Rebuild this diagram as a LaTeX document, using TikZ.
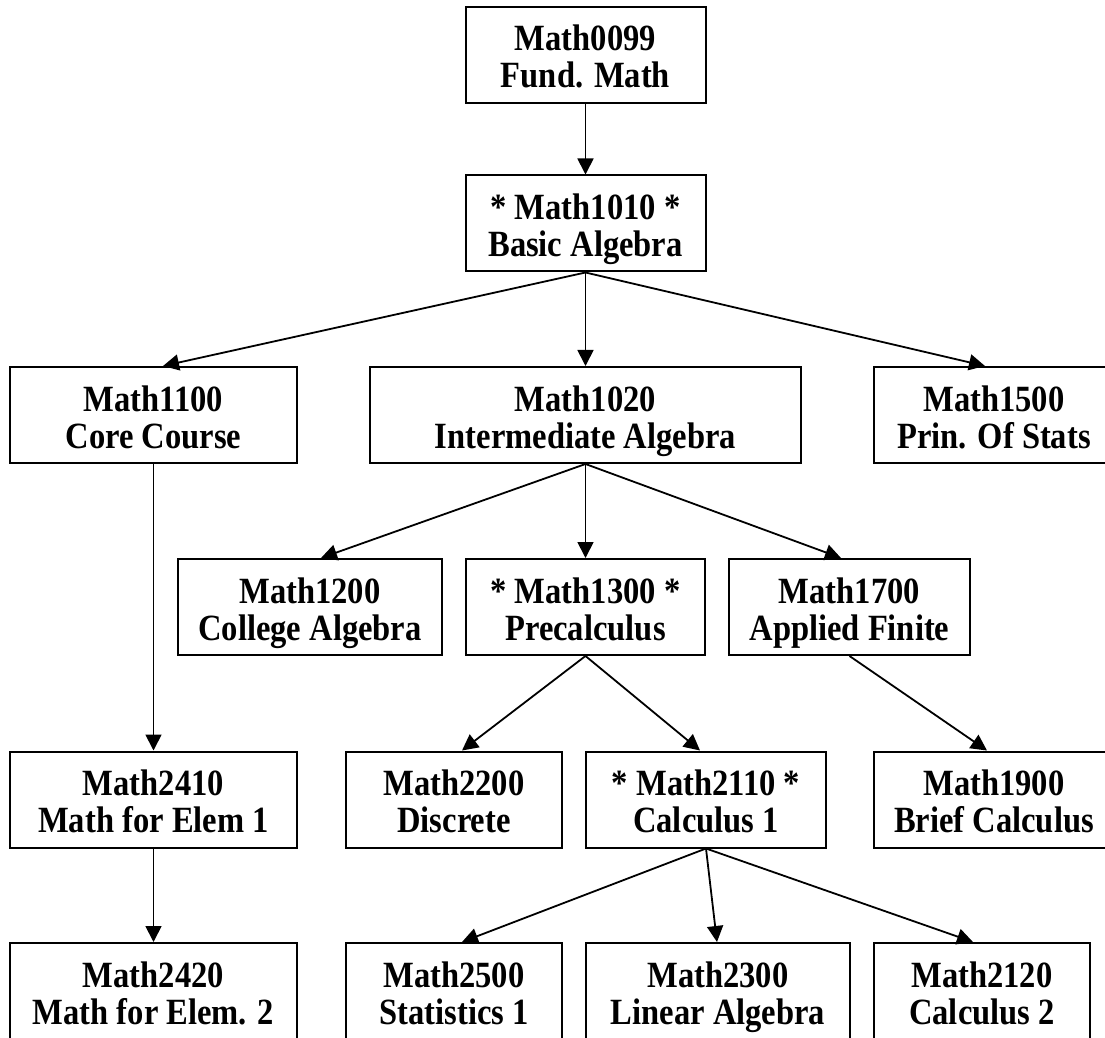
\documentclass[tikz,border=0pt]{standalone}
\usepackage{fontspec}
\newfontfamily\coursefont[FakeStretch=0.88]{Liberation Serif}
\usetikzlibrary{arrows.meta}
\tikzset{course/.style={draw, line width=1pt, align=center, inner sep=0pt,
    minimum width=#1, minimum height=48pt,
    font=\coursefont\bfseries\fontsize{18.5}{18.5}\selectfont,
    text height=38pt, text depth=5pt},
  prereq/.style={-{Triangle[length=8pt,width=8pt]}, line width=0.9pt}}

\begin{document}
\begin{tikzpicture}[x=0.5pt,y=-0.5pt]
\useasboundingbox (0,0) rectangle (1105,1038);
% first year
\node[course=120pt] (m0099) at (585.5,55) {Math0099\\Fund. Math};
\node[course=120pt] (m1010) at (585.5,223.5) {* Math1010 *\\Basic Algebra};
\node[course=143.5pt] (m1100) at (153.5,415) {Math1100\\Core Course};
\node[course=215.5pt] (m1020) at (585.5,415) {Math1020\\Intermediate Algebra};
\node[course=120pt] (m1500) at (994,415) {Math1500\\Prin. Of Stats};
\node[course=132pt] (m1200) at (310,607) {Math1200\\College Algebra};
\node[course=119.5pt] (m1300) at (585.5,607) {* Math1300 *\\Precalculus};
\node[course=120.5pt] (m1700) at (849.5,607) {Math1700\\Applied Finite};
% second year
\node[course=143.5pt] (m2410) at (153.5,799.5) {Math2410\\Math for Elem 1};
\node[course=108pt] (m2200) at (454,799.5) {Math2200\\Discrete};
\node[course=120pt] (m2110) at (706,799.5) {* Math2110 *\\Calculus 1};
\node[course=120pt] (m1900) at (994,799.5) {Math1900\\Brief Calculus};
\node[course=143.5pt] (m2420) at (153.5,991) {Math2420\\Math for Elem. 2};
\node[course=108pt] (m2500) at (454,991) {Math2500\\Statistics 1};
\node[course=132pt] (m2300) at (718,991) {Math2300\\Linear Algebra};
\node[course=108pt] (m2120) at (982,991) {Math2120\\Calculus 2};

\draw[prereq] (m0099.south) -- (m1010.north);
\draw[prereq] (m1010.south) -- ([xshift=4.75pt]m1100.north);
\draw[prereq] (m1010.south) -- (m1020.north);
\draw[prereq] (m1010.south) -- ([xshift=-4.5pt]m1500.north);
\draw[prereq] (m1020.south) -- ([xshift=5.5pt]m1200.north);
\draw[prereq] (m1020.south) -- (m1300.north);
\draw[prereq] (m1020.south) -- ([xshift=-4.25pt]m1700.north);
\draw[prereq] (m1100.south) -- (m2410.north);
\draw[prereq] (m1300.south) -- ([xshift=4pt]m2200.north);
\draw[prereq] (m1300.south) -- ([xshift=-3pt]m2110.north);
\draw[prereq] (m1700.south) -- ([xshift=-3.5pt]m1900.north);
\draw[prereq] (m2410.south) -- (m2420.north);
\draw[prereq] (m2110.south) -- ([xshift=4pt]m2500.north);
\draw[prereq] (m2110.south) -- ([xshift=-0.5pt]m2300.north);
\draw[prereq] (m2110.south) -- ([xshift=-4.5pt]m2120.north);
\end{tikzpicture}
\end{document}
